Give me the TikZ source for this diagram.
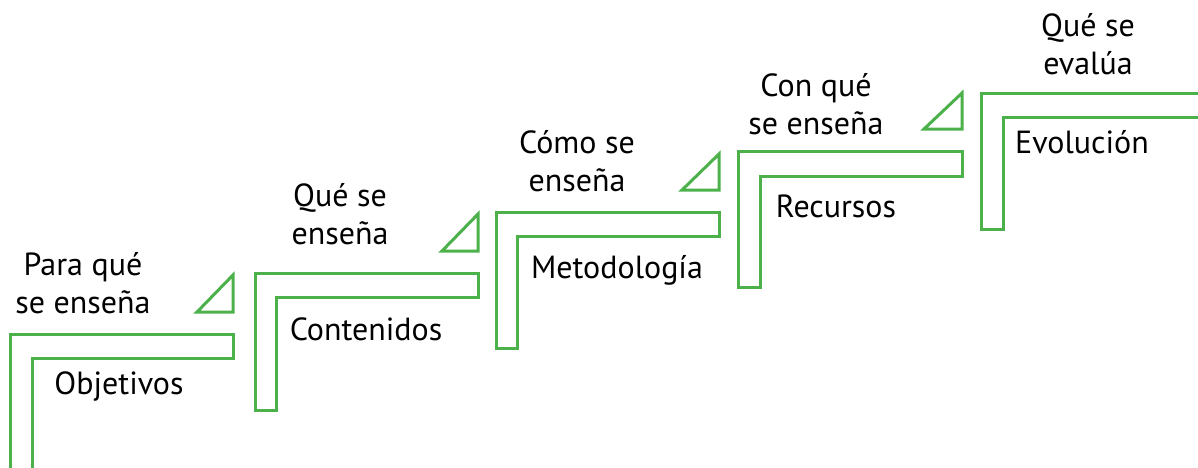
\documentclass[tikz,border=0pt]{standalone}
\usepackage{fontspec}
\setmainfont{PT Sans}
\definecolor{stepgreen}{RGB}{76,177,74}
\begin{document}
\begin{tikzpicture}[x=1pt,y=-1pt,
  stair/.style={draw=stepgreen,line width=3pt,line join=miter},
  wedge/.style={draw=stepgreen,line width=3pt,line join=miter},
  lbl/.style={inner sep=0pt,anchor=base,align=center,font=\fontsize{32}{38}\selectfont,text=black}]
\useasboundingbox (0,0) rectangle (1198,467);
\begin{scope}
\clip (0,0) rectangle (1198,467);
% step 1 (open at the bottom)
\draw[stair] (10,480) -- (10,334) -- (233,334) -- (233,358) -- (32,358) -- (32,480);
\draw[wedge] (197,312) -- (233,312) -- (233,275) -- cycle;
% step 2
\draw[stair] (255,410) -- (255,273) -- (478,273) -- (478,297) -- (276,297) -- (276,410) -- cycle;
\draw[wedge] (442,251) -- (478,251) -- (478,214) -- cycle;
% step 3
\draw[stair] (496,348) -- (496,212) -- (719,212) -- (719,236) -- (517,236) -- (517,348) -- cycle;
\draw[wedge] (682,190) -- (719,190) -- (719,154) -- cycle;
% step 4
\draw[stair] (738,287) -- (738,151) -- (962,151) -- (962,176) -- (760,176) -- (760,287) -- cycle;
\draw[wedge] (924,129) -- (962,129) -- (962,93) -- cycle;
% step 5 (open at the right)
\draw[stair] (1210,93) -- (981,93) -- (981,229) -- (1003,229) -- (1003,117) -- (1210,117);
\end{scope}
% labels (base anchor = baseline of the last line)
\node[lbl] (q1) at (83,313) {Para qué\\se enseña};
\node[lbl] (a1) at (119,394) {Objetivos};
\node[lbl] (q2) at (340,244) {Qué se\\enseña};
\node[lbl] (a2) at (366,340) {Contenidos};
\node[lbl] (q3) at (577,191) {Cómo se\\enseña};
\node[lbl] (a3) at (617,278) {Metodología};
\node[lbl] (q4) at (816,134) {Con qué\\se enseña};
\node[lbl] (a4) at (836,217) {Recursos};
\node[lbl] (q5) at (1088,74) {Qué se\\evalúa};
\node[lbl] (a5) at (1082,153) {Evolución};
\end{tikzpicture}
\end{document}
